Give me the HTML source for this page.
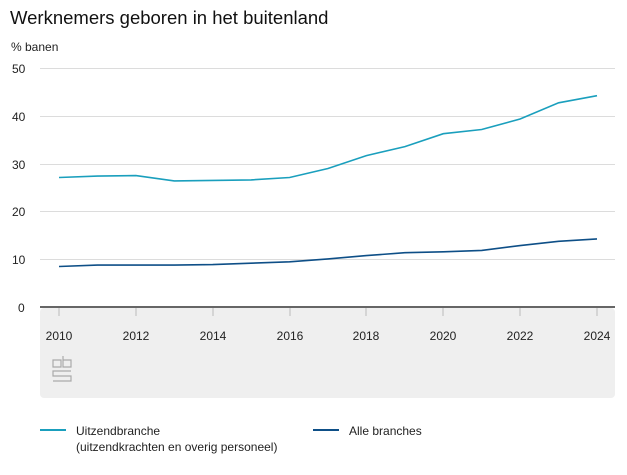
<!DOCTYPE html>
<html><head><meta charset="utf-8"><style>
body{margin:0;background:#fff;font-family:"Liberation Sans",Arial,sans-serif;}
</style></head><body>
<svg width="627" height="470" xmlns="http://www.w3.org/2000/svg" font-family="Liberation Sans, Arial, sans-serif">
<text x="10" y="24" font-size="18.5" fill="#111">Werknemers geboren in het buitenland</text>
<text x="11" y="51" font-size="12" fill="#222">% banen</text>
<rect x="40" y="308" width="575" height="90" rx="4" fill="#efefef"/>
<g stroke="#dcdcdc" stroke-width="1">
<line x1="40" x2="615" y1="68.5" y2="68.5"/>
<line x1="40" x2="615" y1="116.5" y2="116.5"/>
<line x1="40" x2="615" y1="164.5" y2="164.5"/>
<line x1="40" x2="615" y1="211.5" y2="211.5"/>
<line x1="40" x2="615" y1="259.5" y2="259.5"/>
</g>
<g font-size="12" fill="#222">
<text x="12" y="73">50</text><text x="12" y="121">40</text><text x="12" y="169">30</text>
<text x="12" y="216">20</text><text x="12" y="264">10</text><text x="18" y="312">0</text>
</g>
<line x1="40" x2="615" y1="307" y2="307" stroke="#666" stroke-width="2"/>
<g stroke="#bbb" stroke-width="1">
<line x1="59" x2="59" y1="308" y2="316"/><line x1="136" x2="136" y1="308" y2="316"/>
<line x1="213" x2="213" y1="308" y2="316"/><line x1="290" x2="290" y1="308" y2="316"/>
<line x1="366" x2="366" y1="308" y2="316"/><line x1="443" x2="443" y1="308" y2="316"/>
<line x1="520" x2="520" y1="308" y2="316"/><line x1="597" x2="597" y1="308" y2="316"/>
</g>
<g font-size="12" fill="#222" text-anchor="middle">
<text x="59" y="340">2010</text><text x="136" y="340">2012</text><text x="213" y="340">2014</text>
<text x="290" y="340">2016</text><text x="366" y="340">2018</text><text x="443" y="340">2020</text>
<text x="520" y="340">2022</text><text x="597" y="340">2024</text>
</g>
<g fill="none" stroke="#aaa" stroke-width="1.2">
<path d="M53 360h8v7h-8zM63 356v11h8v-7h-8"/>
<path d="M71 371h-18v5h18v5h-18"/>
</g>
<polyline fill="none" stroke="#1a9fbd" stroke-width="1.6" points="59,177.5 97.4,176.1 135.9,175.6 174.3,180.9 212.7,180.4 251.1,179.9 289.6,177.5 328,168.5 366.4,155.6 404.9,146.6 443.3,133.7 481.7,129.5 520.1,119 558.6,102.8 597,95.7"/>
<polyline fill="none" stroke="#0e4f87" stroke-width="1.6" points="59,266.5 97.4,265.1 135.9,265.1 174.3,265.1 212.7,264.6 251.1,263.2 289.6,261.8 328,258.9 366.4,255.6 404.9,252.7 443.3,251.8 481.7,250.4 520.1,245.6 558.6,241.3 597,238.9"/>
<line x1="40" x2="66" y1="430" y2="430" stroke="#1a9fbd" stroke-width="2"/>
<text x="76" y="435" font-size="12" fill="#222">Uitzendbranche</text>
<text x="76" y="451" font-size="12" fill="#222">(uitzendkrachten en overig personeel)</text>
<line x1="313" x2="339" y1="430" y2="430" stroke="#0e4f87" stroke-width="2"/>
<text x="349" y="435" font-size="12" fill="#222">Alle branches</text>
</svg>
</body></html>
